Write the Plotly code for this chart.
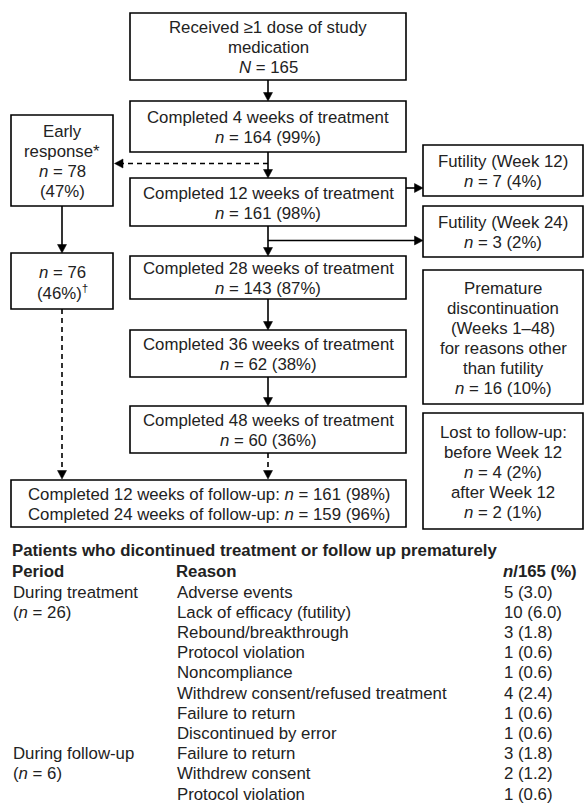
import plotly.graph_objects as go

# ---------------- data ----------------
main_labels = ["Received ≥1 dose of study<br>medication",
               "Completed 4 weeks of treatment",
               "Completed 12 weeks of treatment",
               "Completed 28 weeks of treatment",
               "Completed 36 weeks of treatment",
               "Completed 48 weeks of treatment"]
main_n = [165, 164, 161, 143, 62, 60]
main_pct = [None, 99, 98, 87, 38, 36]

early_n = 78
early_pct = 47
early2_n = 76
early2_pct = 46

futility_weeks = [12, 24]
futility_n = [7, 3]
futility_pct = [4, 2]

premature_n = 16
premature_pct = 10

lost_before_n, lost_before_pct = 4, 2
lost_after_n, lost_after_pct = 2, 1

fu_weeks = [12, 24]
fu_n = [161, 159]
fu_pct = [98, 96]

table_title = "Patients who dicontinued treatment or follow up prematurely"
table_headers = ["Period", "Reason", "<i>n</i>/165 (%)"]
periods = ["During treatment", "During follow-up"]
period_n = [26, 6]
period_rows = [8, 3]
reasons = ["Adverse events", "Lack of efficacy (futility)", "Rebound/breakthrough",
           "Protocol violation", "Noncompliance", "Withdrew consent/refused treatment",
           "Failure to return", "Discontinued by error",
           "Failure to return", "Withdrew consent", "Protocol violation"]
counts = [5, 10, 3, 1, 1, 4, 1, 1, 3, 2, 1]
pcts = [3.0, 6.0, 1.8, 0.6, 0.6, 2.4, 0.6, 0.6, 1.8, 1.2, 0.6]

# ---------------- layout geometry ----------------
W, H = 584, 805
FONT = "Liberation Sans, Arial, sans-serif"
TXT = "#222222"
LW = 1.6
FS = 16.8
LS = 20.0

shapes = []
annots = []


def box(x0, y0, x1, y1, text):
    shapes.append(dict(type="rect", x0=x0, y0=y0, x1=x1, y1=y1,
                       line=dict(color="black", width=LW), fillcolor="white", layer="below"))
    lines = text.split("<br>")
    n = len(lines)
    cy = (y0 + y1) / 2 + 1
    for k, s in enumerate(lines):
        annots.append(dict(x=(x0 + x1) / 2, y=cy + (k - (n - 1) / 2) * LS, text=s, showarrow=False,
                           xanchor="center", yanchor="middle", align="center",
                           font=dict(size=FS, color=TXT, family=FONT)))


def line(x0, y0, x1, y1, dash=None):
    ln = dict(color="black", width=LW)
    if dash:
        ln["dash"] = "5px,4px"
    shapes.append(dict(type="line", x0=x0, y0=y0, x1=x1, y1=y1, line=ln))


def head(x, y, d):
    a, b = 4.5, 8.5
    if d == "down":
        p = f"M {x-a},{y-b} L {x+a},{y-b} L {x},{y} Z"
    elif d == "right":
        p = f"M {x-b},{y-a} L {x-b},{y+a} L {x},{y} Z"
    else:  # left
        p = f"M {x+b},{y-a} L {x+b},{y+a} L {x},{y} Z"
    shapes.append(dict(type="path", path=p, fillcolor="black",
                       line=dict(color="black", width=0.5)))


def nn(n, p=None):
    s = f"<i>n</i> = {n}"
    if p is not None:
        s += f" ({p}%)"
    return s


# main column
CX0, CX1 = 130, 406
CX = (CX0 + CX1) / 2
main_y = [(13, 80), (101, 152), (178, 226), (256, 299), (330, 377), (406, 453)]
for i, (y0, y1) in enumerate(main_y):
    if i == 0:
        t = main_labels[i] + f"<br><i>N</i> = {main_n[i]}"
    else:
        t = main_labels[i] + "<br>" + nn(main_n[i], main_pct[i])
    box(CX0, y0, CX1, y1, t)
    if i > 0:
        line(CX, main_y[i - 1][1], CX, y0 - 6)
        head(CX, y0, "down")

# left column
LX0, LX1 = 11, 113
LXC = 62
box(LX0, 115, LX1, 206, f"Early<br>response*<br>{nn(early_n)}<br>({early_pct}%)")
box(LX0, 253, LX1, 309, f"{nn(early2_n)}<br>({early2_pct}%)<sup>†</sup>")
line(LXC, 206, LXC, 247)
head(LXC, 253, "down")
# dashed arrow to early response
line(CX, 163.5, LX1 + 7, 163.5, dash=True)
head(LX1 + 1.5, 163.5, "left")

# follow-up box
FY0, FY1 = 480, 527
box(LX0, FY0, CX1, FY1,
    "<br>".join(f"Completed {w} weeks of follow-up: {nn(n, p)}" for w, n, p in zip(fu_weeks, fu_n, fu_pct)))
line(LXC, 309, LXC, FY0 - 7, dash=True)
head(LXC, FY0 - 1, "down")
line(CX, 453, CX, FY0 - 7, dash=True)
head(CX, FY0 - 1, "down")

# right column
RX0, RX1 = 423, 583
box(RX0, 145, RX1, 196, f"Futility (Week {futility_weeks[0]})<br>{nn(futility_n[0], futility_pct[0])}")
box(RX0, 206, RX1, 257, f"Futility (Week {futility_weeks[1]})<br>{nn(futility_n[1], futility_pct[1])}")
line(CX1, 188, RX0 - 6, 188)
head(RX0, 188, "right")
line(CX, 240.5, RX0 - 6, 240.5)
head(RX0, 240.5, "right")

box(RX0, 270, RX1, 404,
    "Premature<br>discontinuation<br>(Weeks 1–48)<br>for reasons other<br>than futility<br>"
    + nn(premature_n, premature_pct))
box(RX0, 413, RX1, 529,
    "Lost to follow-up:<br>before Week 12<br>" + nn(lost_before_n, lost_before_pct)
    + "<br>after Week 12<br>" + nn(lost_after_n, lost_after_pct))

# ---------------- table ----------------
TFS = 16.8
COLX = [11, 175, 502]


def tx(x, y, s, bold=False):
    if bold:
        s = f"<b>{s}</b>"
    annots.append(dict(x=x, y=y, text=s, showarrow=False, xanchor="left", yanchor="middle",
                       align="left", font=dict(size=TFS, color=TXT, family=FONT)))


tx(COLX[0] - 1, 550.5, table_title, bold=True)
for cx, h in zip(COLX, table_headers):
    tx(cx - 1, 571.5, h, bold=True)

ROW0, DY = 592, 20.2
start = 0
for per, pn, nr in zip(periods, period_n, period_rows):
    tx(COLX[0], ROW0 + DY * start, per)
    tx(COLX[0], ROW0 + DY * (start + 1), f"({nn(pn)})")
    start += nr
for i, (r, c, p) in enumerate(zip(reasons, counts, pcts)):
    y = ROW0 + DY * i
    tx(COLX[1], y, r)
    tx(COLX[2], y, f"{c} ({p:.1f})")

fig = go.Figure()
fig.update_layout(
    width=W, height=H, margin=dict(l=0, r=0, t=0, b=0),
    paper_bgcolor="white", plot_bgcolor="white",
    xaxis=dict(range=[0, W], visible=False, fixedrange=True),
    yaxis=dict(range=[H, 0], visible=False, fixedrange=True),
    shapes=shapes, annotations=annots, showlegend=False,
)
fig.write_html("out.html", config={"displayModeBar": False},
               post_script="document.body.style.margin='0';document.body.style.overflow='hidden';")
